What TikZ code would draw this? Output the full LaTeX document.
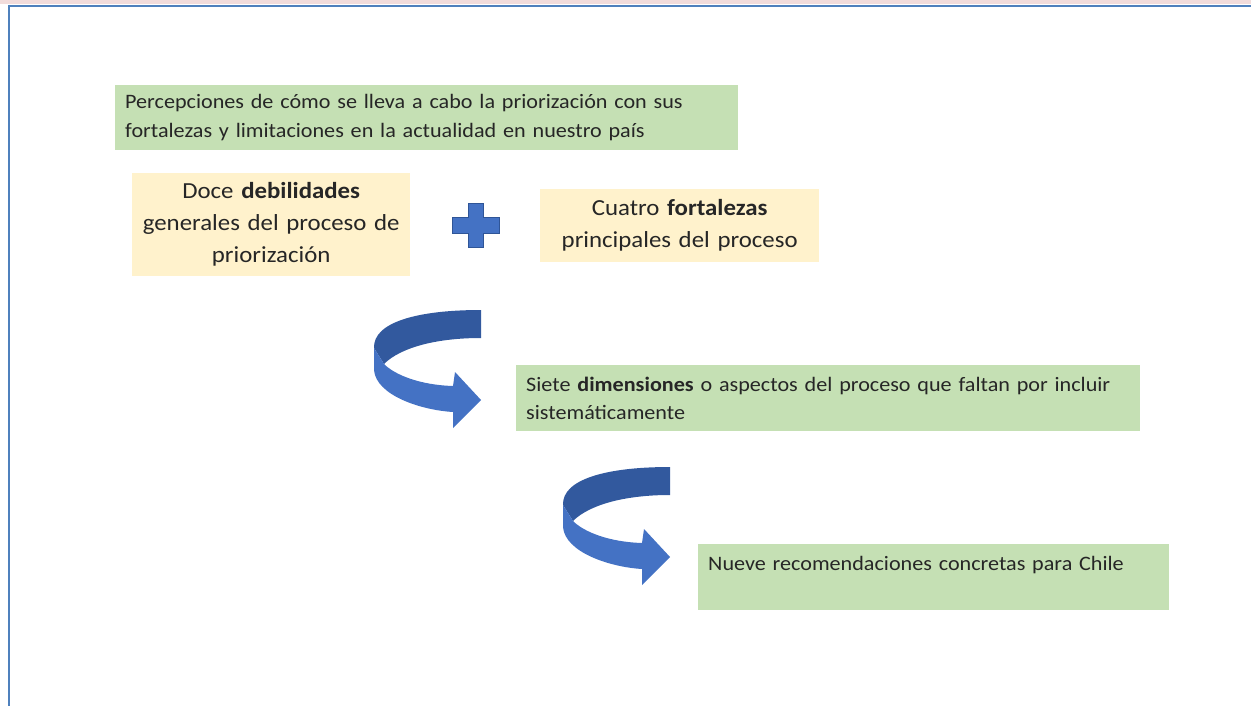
\documentclass[tikz,border=0pt]{standalone}
\usepackage{fontspec}
\setmainfont{Carlito}[FakeStretch=1.08]
\definecolor{boxgreen}{HTML}{C5E0B4}
\definecolor{boxyellow}{HTML}{FFF2CC}
\definecolor{arrowblue}{HTML}{4472C4}
\definecolor{arrowdark}{HTML}{2F5597}
\definecolor{framepink}{HTML}{F2DCDB}
\definecolor{frameblue}{HTML}{4F81BD}

\begin{document}
\begin{tikzpicture}[x=1pt,y=-1pt,
    greenbox/.style={fill=boxgreen, inner xsep=10pt, inner ysep=0pt, anchor=north west, align=left, text=black!85, font=\fontsize{20.5}{28.5}\selectfont},
    yellowbox/.style={fill=boxyellow, inner xsep=10pt, inner ysep=0pt, anchor=north west, align=center, text=black!85, font=\fontsize{23}{32}\selectfont}]
    \useasboundingbox (0,0) rectangle (1251,706);
    % frame of the slide
    \fill[framepink] (0,0) rectangle (1251,4);
    \draw[frameblue, line width=2pt] (8,6) -- (1251,6);
    \draw[frameblue, line width=2.5pt] (9,5) -- (9,706);
    % boxes
    \node[greenbox, text width=603pt, minimum height=65pt] (percep) at (115,85)
        {Percepciones de cómo se lleva a cabo la priorización con sus\\fortalezas y limitaciones en la actualidad en nuestro país};
    \node[yellowbox, text width=258pt, minimum height=103pt] (debil) at (132,173)
        {Doce \textbf{debilidades}\\generales del proceso de\\priorización};
    \node[yellowbox, text width=259pt, minimum height=73pt] (fortal) at (540,189)
        {Cuatro \textbf{fortalezas}\\principales del proceso};
    \node[greenbox, text width=604pt, minimum height=66pt, yshift=-2pt] (dimen) at (516,363)
        {Siete \textbf{dimensiones} o aspectos del proceso que faltan por incluir\\sistemáticamente};
    \node[greenbox, text width=451pt, inner ysep=8pt, text height=18pt, text depth=32pt] (recom) at (698,544)
        {Nueve recomendaciones concretas para Chile};
    % plus sign
    \draw[arrowdark, fill=arrowblue, line width=0.6pt] (468,203) -- (483,203) -- (483,217) -- (499,217) -- (499,233) -- (483,233)
        -- (483,247) -- (468,247) -- (468,233) -- (452,233) -- (452,217) -- (468,217) -- cycle;
    % curled arrows
    \foreach \dx/\dy in {0/0, 189/157}{
    \begin{scope}[shift={(\dx,\dy)}]
    \fill[arrowdark!85!arrowblue] (481,310) .. controls (418,310) and (373,322) .. (374,348) -- (384,364)
        .. controls (400,348) and (435,338) .. (481,338) -- cycle;
    \fill[arrowblue] (374,348) -- (374,370) .. controls (376,395) and (420,410) .. (453,412) -- (453,428)
        -- (481,400) -- (455,372) -- (453,386) .. controls (420,385) and (395,375) .. (384,364) -- cycle;
    \end{scope}
    }
\end{tikzpicture}
\end{document}
